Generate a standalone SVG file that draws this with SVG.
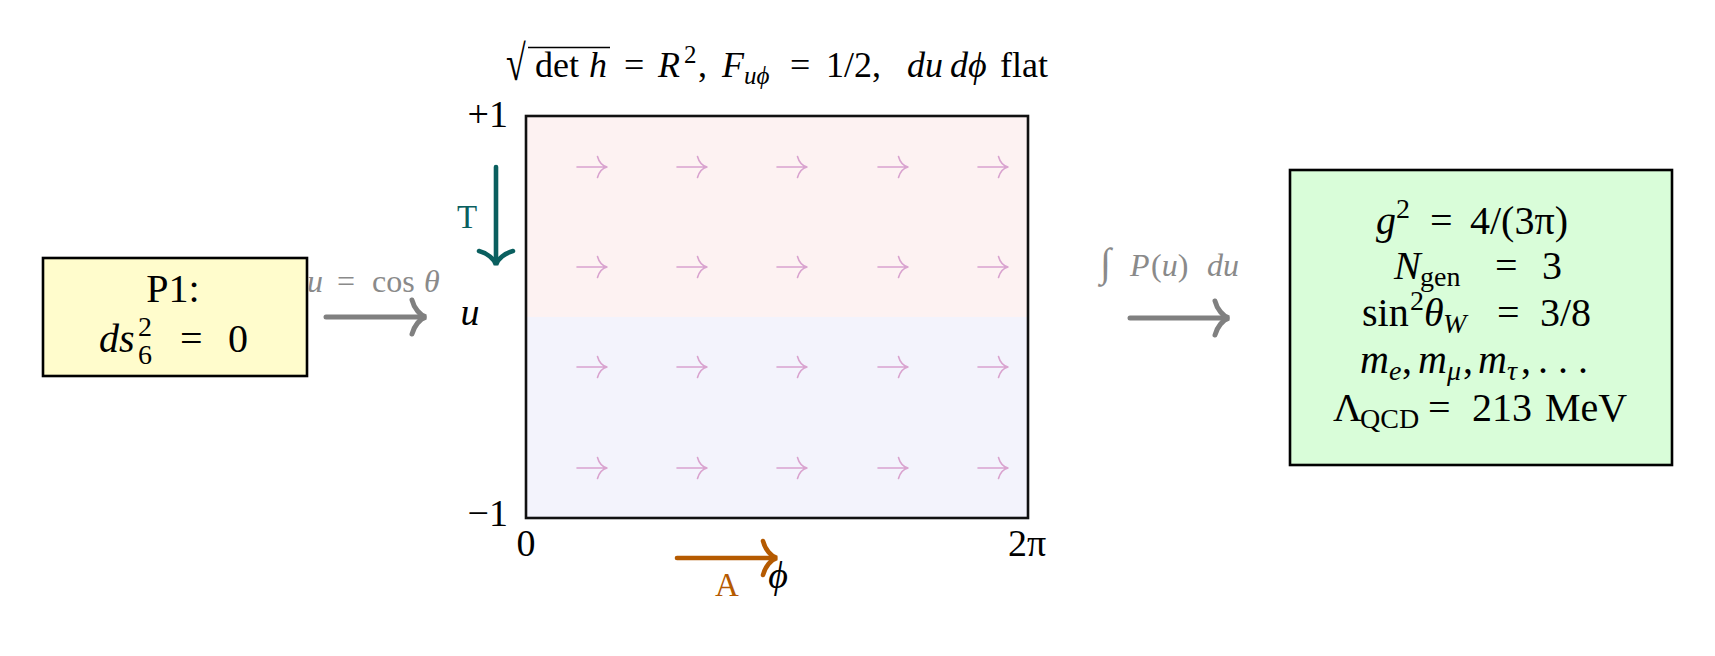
<svg xmlns="http://www.w3.org/2000/svg" xmlns:xlink="http://www.w3.org/1999/xlink" width="1715" height="656" viewBox="0 0 1715 656">
<style>
text{font-family:"Liberation Serif","Times New Roman",serif;fill:#000}
.i{font-style:italic}
.box{stroke:#000;stroke-width:2.6}
.t{font-size:36px}
.ts{font-size:25px}
.lbl{font-size:38px}
.bx{font-size:40px}
.sc{font-size:28px}
.gray{fill:#8a8a8a;font-size:32px}
.fa{fill:none;stroke:#d9a3cf;stroke-width:1.6;stroke-linecap:round}
.thick{fill:none;stroke-width:5;stroke-linecap:round}
</style>
<defs>
<g id="fa"><path d="M0,0 H30 M20.5,-10.5 C22,-5 26,-1 30,0 C26,1 22,5 20.5,10.5"/></g>
<path id="hd" d="M-14,-17 C-12,-9 -6,-1.5 0,0 C-6,1.5 -12,9 -14,17"/>
</defs>
<rect width="1715" height="656" fill="#fff"/>

<g id="title">
<text class="t" font-size="42" transform="translate(506,80) scale(1,1.38)">√</text>
<line x1="528" y1="47.5" x2="610" y2="47.5" stroke="#000" stroke-width="1.6"/>
<text class="t" y="77"><tspan x="535">det</tspan><tspan class="i" x="589">h</tspan><tspan x="624">=</tspan><tspan class="i" x="658">R</tspan><tspan class="ts" x="684" y="63">2</tspan><tspan x="698" y="77">,</tspan><tspan class="i" x="722">F</tspan><tspan class="ts i" x="744" y="84">uϕ</tspan><tspan x="790" y="77">=</tspan><tspan x="826">1/2,</tspan><tspan class="i" x="907">du</tspan><tspan class="i" x="950">dϕ</tspan><tspan x="1000">flat</tspan></text>
</g>

<g id="p1">
<rect class="box" x="43" y="258" width="264" height="118" fill="#fffccc"/>
<text class="bx" x="173" y="302" text-anchor="middle">P1:</text>
<text class="bx" y="352"><tspan class="i" x="99">ds</tspan><tspan class="sc" x="138" y="336">2</tspan><tspan class="sc" x="138" y="364">6</tspan><tspan x="180" y="352">=</tspan><tspan x="228">0</tspan></text>
</g>

<g id="plane">
<rect x="526" y="116" width="502" height="201" fill="#fdf2f2"/>
<rect x="526" y="317" width="502" height="201" fill="#f3f3fc"/>
<rect x="526" y="116" width="502" height="402" fill="none" stroke="#111" stroke-width="2.6"/>
<g class="fa">
<use xlink:href="#fa" x="577" y="167"/><use xlink:href="#fa" x="677" y="167"/><use xlink:href="#fa" x="777" y="167"/><use xlink:href="#fa" x="878" y="167"/><use xlink:href="#fa" x="978" y="167"/>
<use xlink:href="#fa" x="577" y="267"/><use xlink:href="#fa" x="677" y="267"/><use xlink:href="#fa" x="777" y="267"/><use xlink:href="#fa" x="878" y="267"/><use xlink:href="#fa" x="978" y="267"/>
<use xlink:href="#fa" x="577" y="367"/><use xlink:href="#fa" x="677" y="367"/><use xlink:href="#fa" x="777" y="367"/><use xlink:href="#fa" x="878" y="367"/><use xlink:href="#fa" x="978" y="367"/>
<use xlink:href="#fa" x="577" y="468"/><use xlink:href="#fa" x="677" y="468"/><use xlink:href="#fa" x="777" y="468"/><use xlink:href="#fa" x="878" y="468"/><use xlink:href="#fa" x="978" y="468"/>
</g>
<text class="lbl" x="508" y="127" text-anchor="end">+1</text>
<text class="lbl" x="508" y="526" text-anchor="end">−1</text>
<text class="lbl" x="526" y="556" text-anchor="middle">0</text>
<text class="lbl" x="1027" y="556" text-anchor="middle">2π</text>
<text class="lbl i" x="470" y="325" text-anchor="middle">u</text>
<text class="lbl i" x="778" y="588" text-anchor="middle">ϕ</text>
<text x="467" y="228" text-anchor="middle" font-size="33" style="fill:#0a5f5f">T</text>
<text x="727" y="596" text-anchor="middle" font-size="33" style="fill:#b55a00">A</text>
</g>

<g id="out">
<rect class="box" x="1290" y="170" width="382" height="295" fill="#d9fdd9"/>
<text class="bx" y="234"><tspan class="i" x="1376">g</tspan><tspan class="sc" x="1396" y="218">2</tspan><tspan x="1430" y="234">=</tspan><tspan x="1470">4/(3π)</tspan></text>
<text class="bx" y="279"><tspan class="i" x="1394">N</tspan><tspan class="sc" x="1420" y="286">gen</tspan><tspan x="1495" y="279">=</tspan><tspan x="1542">3</tspan></text>
<text class="bx" y="326"><tspan x="1362">sin</tspan><tspan class="sc" x="1410" y="310">2</tspan><tspan class="i" x="1424" y="326">θ</tspan><tspan class="sc i" x="1443" y="333">W</tspan><tspan x="1497" y="326">=</tspan><tspan x="1540">3/8</tspan></text>
<text class="bx" y="373"><tspan class="i" x="1360">m</tspan><tspan class="sc i" x="1389" y="380">e</tspan><tspan x="1402" y="373">,</tspan><tspan class="i" x="1418">m</tspan><tspan class="sc i" x="1447" y="380">μ</tspan><tspan x="1463" y="373">,</tspan><tspan class="i" x="1478">m</tspan><tspan class="sc i" x="1507" y="380">τ</tspan><tspan x="1521" y="373">,</tspan><tspan x="1538">. . .</tspan></text>
<text class="bx" y="421"><tspan x="1333">Λ</tspan><tspan class="sc" x="1360" y="428">QCD</tspan><tspan x="1428" y="421">=</tspan><tspan x="1472">213</tspan><tspan x="1545">MeV</tspan></text>
</g>

<g id="connectors">
<g stroke="#808080" class="thick">
<path d="M326,317 H424"/>
<use xlink:href="#hd" x="426" y="317"/>
<path d="M1130,318 H1227"/>
<use xlink:href="#hd" x="1229" y="318"/>
</g>
<g stroke="#0a5f5f" class="thick" style="stroke-width:4.6">
<path d="M496,167 V263"/>
<use xlink:href="#hd" transform="translate(496,265) rotate(90)"/>
</g>
<g stroke="#b55a00" class="thick" style="stroke-width:4.6">
<path d="M677,558 H775"/>
<use xlink:href="#hd" x="777" y="558"/>
</g>
<text class="gray" y="292"><tspan class="i" x="307">u</tspan><tspan x="337">=</tspan><tspan x="372">cos</tspan><tspan class="i" x="424">θ</tspan></text>
<text class="gray" y="276"><tspan x="1100" font-size="40" class="i">∫</tspan><tspan class="i" x="1130">P</tspan><tspan x="1151">(</tspan><tspan class="i">u</tspan><tspan>)</tspan><tspan class="i" x="1207">du</tspan></text>
</g>
</svg>
